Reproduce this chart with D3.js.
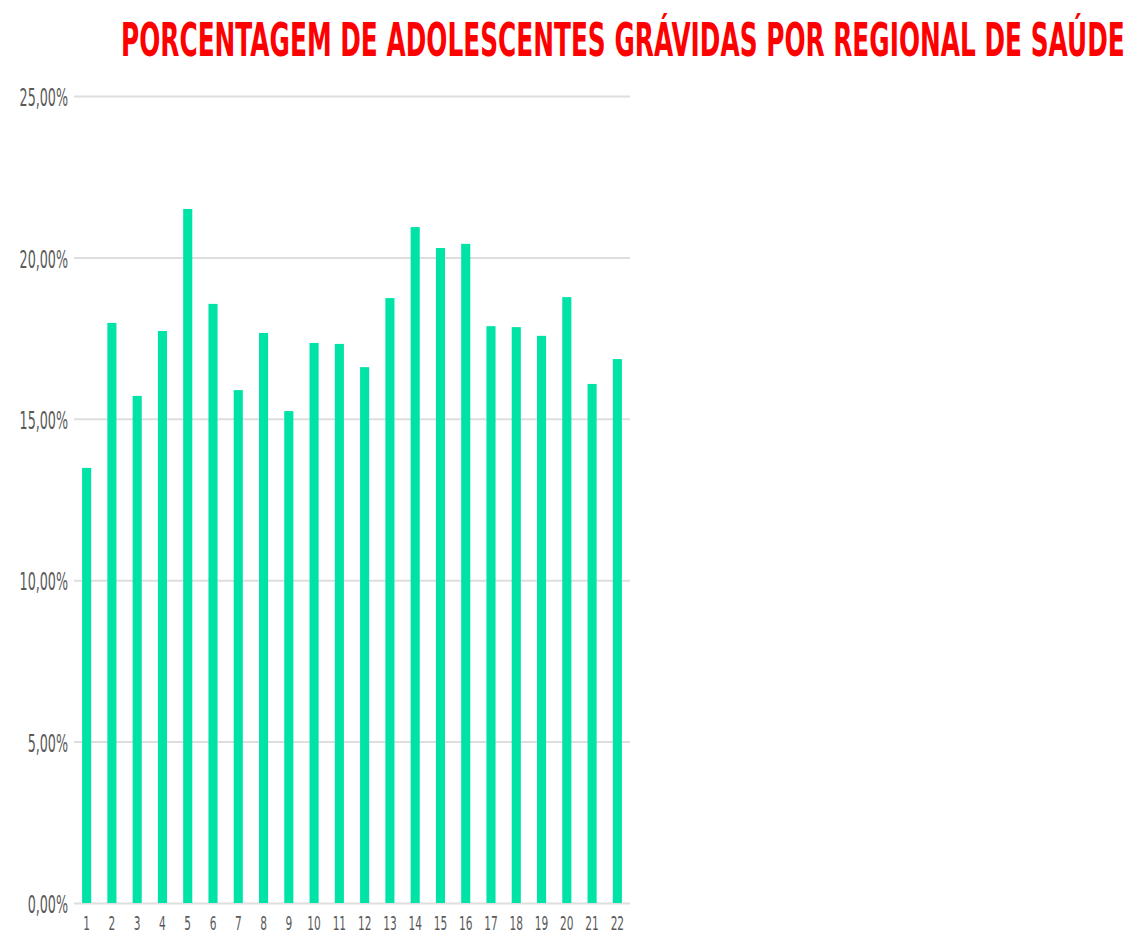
<!DOCTYPE html>
<html>
<head>
<meta charset="utf-8">
<script src="https://cdn.jsdelivr.net/npm/d3@7"></script>
<style>
  body { margin: 0; background: #fff; }
  svg { display: block; }
</style>
</head>
<body>
<svg id="chart"></svg>
<script>
const regionais = ['1', '2', '3', '4', '5', '6', '7', '8', '9', '10', '11',
  '12', '13', '14', '15', '16', '17', '18', '19', '20', '21', '22'];
const percentuais = [13.48, 17.97, 15.71, 17.72, 21.50, 18.56, 15.89, 17.66, 15.24, 17.35, 17.32,
  16.60, 18.74, 20.94, 20.29, 20.42, 17.87, 17.84, 17.57, 18.77, 16.08, 16.85];
const yTicks = [0, 5, 10, 15, 20, 25];
const titulo = 'PORCENTAGEM DE ADOLESCENTES GRÁVIDAS POR REGIONAL DE SAÚDE';

const width = 1148;
const height = 936;
const plotLeft = 74;
const plotRight = 630;
const plotTop = 96;
const plotBottom = 903;
const squeeze = 0.53;

const svg = d3.select('#chart')
    .attr('width', width)
    .attr('height', height);

const x = d3.scaleBand()
    .domain(regionais)
    .range([plotLeft, plotRight])
    .paddingInner(0.64)
    .paddingOuter(0.32);
const y = d3.scaleLinear()
    .domain([0, 25])
    .range([plotBottom, plotTop]);

const fmt = (d) => d3.format('.2f')(d).replace('.', ',') + '%';

// grid + y labels
const yAxis = d3.axisLeft(y).tickValues(yTicks).tickFormat(fmt).tickSize(-(plotRight - plotLeft));
const gy = svg.append('g')
    .attr('transform', `translate(${plotLeft},0)`)
    .call(yAxis);
gy.select('.domain').remove();
gy.selectAll('.tick line')
    .attr('stroke', '#dedede')
    .attr('stroke-width', 2);
gy.selectAll('.tick text')
    .attr('x', -6 / squeeze)
    .attr('dy', '0.4em')
    .attr('transform', `scale(${squeeze},1)`)
    .attr('fill', '#5a5a5a')
    .style('font-family', 'DejaVu Sans, sans-serif')
    .style('font-size', '24px');

// bars
svg.append('g')
    .selectAll('rect')
    .data(percentuais)
    .join('rect')
    .attr('x', (d, i) => x(regionais[i]))
    .attr('y', (d) => y(d))
    .attr('width', x.bandwidth())
    .attr('height', (d) => y(0) - y(d))
    .attr('fill', '#00e3a7');

// x labels
const xAxis = d3.axisBottom(x).tickSize(0);
const gx = svg.append('g')
    .attr('transform', `translate(0,${plotBottom})`)
    .call(xAxis);
gx.select('.domain').remove();
gx.selectAll('.tick text')
    .attr('y', 27)
    .attr('dy', 0)
    .attr('transform', `scale(${squeeze},1)`)
    .attr('fill', '#5a5a5a')
    .style('font-family', 'DejaVu Sans, sans-serif')
    .style('font-size', '20px');

// title, squeezed horizontally to the reference width
const title = svg.append('text')
    .attr('fill', '#ff0000')
    .style('font-family', 'DejaVu Sans, sans-serif')
    .style('font-weight', 'bold')
    .style('font-size', '46px')
    .text(titulo);
const titleScale = 1004 / title.node().getComputedTextLength();
title.attr('transform', `translate(121,56) scale(${titleScale},1)`);
</script>
</body>
</html>
